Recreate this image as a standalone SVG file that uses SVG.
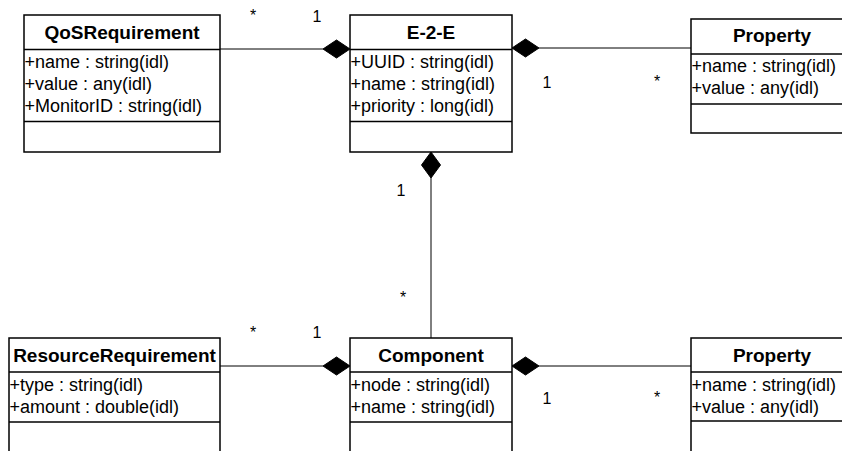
<svg xmlns="http://www.w3.org/2000/svg" width="842" height="451" viewBox="0 0 842 451">
<style>
.box{fill:#fff;stroke:#000;stroke-width:1.5}
.sep{stroke:#000;stroke-width:1.5}
.title{font-family:"Liberation Sans",Arial,sans-serif;font-weight:bold;font-size:19px;text-anchor:middle;fill:#000}
.attr{font-family:"Liberation Sans",Arial,sans-serif;font-size:18px;fill:#000}
.conn{stroke:#000;stroke-width:1;fill:none}
.dia{fill:#000;stroke:#000;stroke-width:1}
.lbl{font-family:"Liberation Sans",Arial,sans-serif;font-size:16px;text-anchor:middle;fill:#000}
</style>
<rect width="842" height="451" fill="#fff"/>
<g id="connectors">
  <line class="conn" x1="220" y1="49" x2="323" y2="49"/>
  <polygon class="dia" points="323,49 336.5,40 350,49 336.5,58"/>
  <line class="conn" x1="539" y1="48" x2="691" y2="48"/>
  <polygon class="dia" points="512,48 525.5,39 539,48 525.5,57"/>
  <line class="conn" x1="431" y1="178" x2="431" y2="338"/>
  <polygon class="dia" points="431,152 440.5,165 431,178 421.5,165"/>
  <line class="conn" x1="220" y1="366" x2="323" y2="366"/>
  <polygon class="dia" points="323,366 336.5,357 350,366 336.5,375"/>
  <line class="conn" x1="539" y1="366" x2="691" y2="366"/>
  <polygon class="dia" points="512,366 525.5,357 539,366 525.5,375"/>
  <text class="lbl" x="253" y="21">*</text>
  <text class="lbl" x="317" y="21.5">1</text>
  <text class="lbl" x="547" y="88">1</text>
  <text class="lbl" x="657" y="87">*</text>
  <text class="lbl" x="401" y="196">1</text>
  <text class="lbl" x="403" y="303">*</text>
  <text class="lbl" x="253" y="338">*</text>
  <text class="lbl" x="317" y="338">1</text>
  <text class="lbl" x="547" y="404">1</text>
  <text class="lbl" x="657" y="403">*</text>
</g>
<g id="QoSRequirement">
  <rect class="box" x="24" y="15" width="196" height="137"/>
  <line class="sep" x1="24" y1="49.5" x2="220" y2="49.5"/>
  <line class="sep" x1="24" y1="121.5" x2="220" y2="121.5"/>
  <text class="title" x="122" y="39">QoSRequirement</text>
  <text class="attr" x="24.5" y="68">+name : string(idl)</text>
  <text class="attr" x="24.5" y="90">+value : any(idl)</text>
  <text class="attr" x="24.5" y="111.5">+MonitorID : string(idl)</text>
</g>
<g id="E2E">
  <rect class="box" x="350" y="15" width="162" height="137"/>
  <line class="sep" x1="350" y1="49.5" x2="512" y2="49.5"/>
  <line class="sep" x1="350" y1="121.5" x2="512" y2="121.5"/>
  <text class="title" x="431" y="39">E-2-E</text>
  <text class="attr" x="350.5" y="68">+UUID : string(idl)</text>
  <text class="attr" x="350.5" y="90">+name : string(idl)</text>
  <text class="attr" x="350.5" y="111.5">+priority : long(idl)</text>
</g>
<g id="Property1">
  <rect class="box" x="691" y="19" width="162" height="114"/>
  <line class="sep" x1="691" y1="54" x2="853" y2="54"/>
  <line class="sep" x1="691" y1="104" x2="853" y2="104"/>
  <text class="title" x="772" y="42">Property</text>
  <text class="attr" x="691.5" y="72">+name : string(idl)</text>
  <text class="attr" x="691.5" y="93.5">+value : any(idl)</text>
</g>
<g id="ResourceRequirement">
  <rect class="box" x="9" y="338" width="211" height="140"/>
  <line class="sep" x1="9" y1="372" x2="220" y2="372"/>
  <line class="sep" x1="9" y1="422" x2="220" y2="422"/>
  <text class="title" x="114.5" y="362">ResourceRequirement</text>
  <text class="attr" x="9.5" y="391">+type : string(idl)</text>
  <text class="attr" x="9.5" y="412.5">+amount : double(idl)</text>
</g>
<g id="Component">
  <rect class="box" x="350" y="338" width="162" height="140"/>
  <line class="sep" x1="350" y1="372" x2="512" y2="372"/>
  <line class="sep" x1="350" y1="422" x2="512" y2="422"/>
  <text class="title" x="431" y="362">Component</text>
  <text class="attr" x="350.5" y="391">+node : string(idl)</text>
  <text class="attr" x="350.5" y="412.5">+name : string(idl)</text>
</g>
<g id="Property2">
  <rect class="box" x="691" y="338" width="162" height="140"/>
  <line class="sep" x1="691" y1="372" x2="853" y2="372"/>
  <line class="sep" x1="691" y1="421" x2="853" y2="421"/>
  <text class="title" x="772" y="362">Property</text>
  <text class="attr" x="691.5" y="391">+name : string(idl)</text>
  <text class="attr" x="691.5" y="412.5">+value : any(idl)</text>
</g>
</svg>
